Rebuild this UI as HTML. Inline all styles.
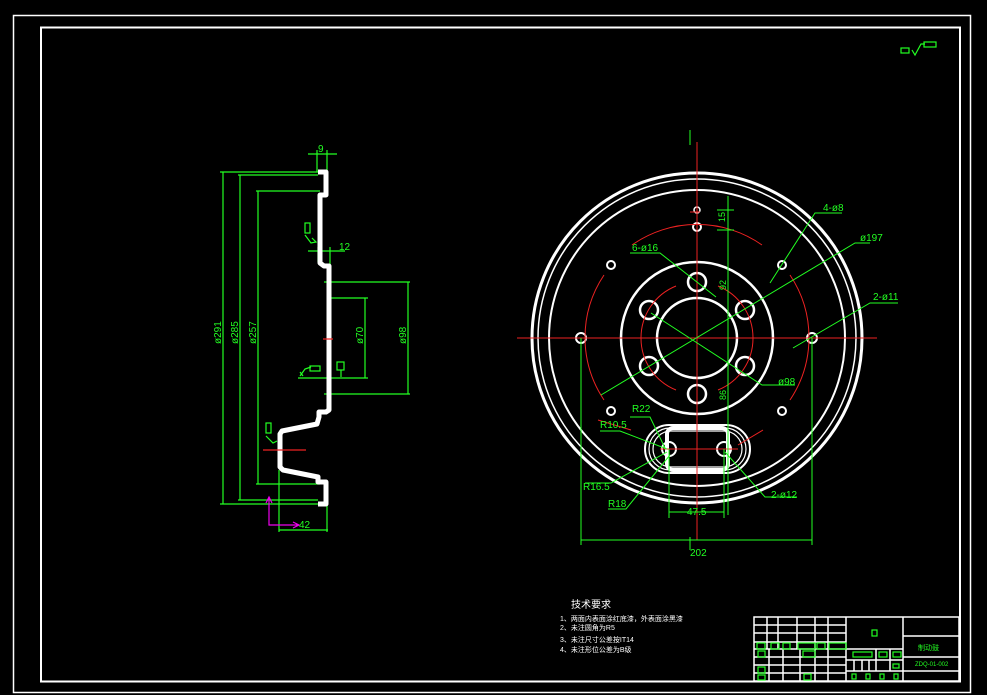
<!DOCTYPE html>
<html><head><meta charset="utf-8"><style>
html,body{margin:0;padding:0;background:#000;}
svg{display:block}
text{font-family:"Liberation Sans","Noto Sans CJK SC",sans-serif;}
</style></head><body>
<svg width="987" height="695" viewBox="0 0 987 695" xmlns="http://www.w3.org/2000/svg">
<rect width="987" height="695" fill="#000"/>
<!-- frames -->
<rect x="13.5" y="15.5" width="957" height="677" fill="none" stroke="#fff" stroke-width="1.5"/>
<rect x="41" y="27.5" width="919" height="654" fill="none" stroke="#fff" stroke-width="2"/>
<!-- top-right roughness symbol -->
<g stroke="#2f2" fill="none" stroke-width="1.2">
<rect x="901" y="48" width="8" height="5"/>
<path d="M912,50 L915,55 L921,44 L925,44"/>
<rect x="924" y="42" width="12" height="5"/>
</g>

<!-- LEFT SECTION VIEW -->
<g stroke="#2f2" stroke-width="1.2" fill="none">
<!-- dim ø291 -->
<path d="M223,172 V504 M220,172 H318 M220,504 H318"/>
<!-- ø285 -->
<path d="M240,175 V500 M238,175 H318 M238,500 H318"/>
<!-- ø257 -->
<path d="M258,191 V484 M256,191 H320 M256,484 H320"/>
<!-- ø98 -->
<path d="M408,282 V394 M324,282 H410 M324,394 H410"/>
<!-- ø70 -->
<path d="M365,298 V378 M330,298 H368 M298,378 H368"/>
<!-- 9 -->
<path d="M308,154 H337 M317,150 V172 M327,150 V172"/>
<!-- 12 -->
<path d="M308,251 H345 M318,247 V262 M330,247 V265"/>
<!-- 42 -->
<path d="M279,530 H328 M279,470 V532 M327,505 V532"/>
<!-- roughness symbols -->
<rect x="305" y="223" width="5" height="10"/>
<path d="M305,235 L311,243 L316,242 L312,238"/>
<rect x="266" y="423" width="5" height="10"/>
<path d="M266,436 L273,443 L277,441"/>
<path d="M300,376 L305,369 L311,367 M303,376 L300,372"/>
<rect x="310" y="366" width="10" height="5"/>
<rect x="337" y="362" width="7" height="8"/>
<path d="M341,370 V377"/>
</g>
<!-- magenta axis -->
<g stroke="#e0e" stroke-width="1.2" fill="none">
<path d="M269,497 V525 H299 M266,503 L269,497 L272,503 M293,522 L299,525 L293,528"/>
</g>
<!-- profile -->
<path d="M318,172 H326 V195 H320 V263 L324,266 H329 V410 L326,412 H319 V417 L317,424 L282,431 L280,434 V467 L283,470 L318,477 V482 H326 V504 H318" fill="none" stroke="#fff" stroke-width="5" stroke-linejoin="round"/>
<path d="M263,450 H306 M323,339 H333" stroke="#e22" stroke-width="1.2"/>
<g fill="#2f2" font-size="10">
<text x="318" y="152">9</text>
<text x="339" y="250">12</text>
<text x="299" y="528">42</text>
<text transform="translate(221,344) rotate(-90)">ø291</text>
<text transform="translate(238,344) rotate(-90)">ø285</text>
<text transform="translate(256,344) rotate(-90)">ø257</text>
<text transform="translate(363,344) rotate(-90)">ø70</text>
<text transform="translate(406,344) rotate(-90)">ø98</text>
</g>

<!-- RIGHT VIEW -->
<g fill="none" stroke="#fff">
<circle cx="697" cy="338" r="165" stroke-width="3"/>
<circle cx="697" cy="338" r="159" stroke-width="1.5"/>
<circle cx="697" cy="338" r="148" stroke-width="2"/>
<circle cx="697" cy="338" r="76" stroke-width="2.5"/>
<circle cx="697" cy="338" r="40" stroke-width="2.5"/>
<circle cx="697" cy="282" r="9" stroke-width="2.5"/>
<circle cx="697" cy="394" r="9" stroke-width="2.5"/>
<circle cx="649" cy="310" r="9" stroke-width="2.5"/>
<circle cx="745" cy="310" r="9" stroke-width="2.5"/>
<circle cx="649" cy="366" r="9" stroke-width="2.5"/>
<circle cx="745" cy="366" r="9" stroke-width="2.5"/>
<circle cx="581" cy="338" r="5" stroke-width="2"/>
<circle cx="812" cy="338" r="5" stroke-width="2"/>
<circle cx="611" cy="265" r="4" stroke-width="2"/>
<circle cx="782" cy="265" r="4" stroke-width="2"/>
<circle cx="611" cy="411" r="4" stroke-width="2"/>
<circle cx="782" cy="411" r="4" stroke-width="2"/>
<circle cx="697" cy="210" r="3" stroke-width="1.5"/>
<circle cx="697" cy="227" r="4" stroke-width="2"/>
<!-- slot -->
<rect x="645" y="425" width="105" height="48" rx="24" stroke-width="2"/>
<rect x="649" y="428" width="97" height="42" rx="21" stroke-width="1.2"/>
<rect x="653" y="431" width="89" height="36" rx="18" stroke-width="1.2"/>
<rect x="667" y="428" width="61" height="42" rx="6" stroke-width="4"/>
<circle cx="669" cy="449" r="7" stroke-width="2"/>
<circle cx="724" cy="449" r="7" stroke-width="2"/>
</g>
<g fill="none" stroke="#e22" stroke-width="1">
<path d="M517,338 H877 M697,142 V540 M700,212 H690 M660,449 H738"/>
<path d="M632,245 A113,113 0 0 1 762,245"/>
<path d="M585,338 A113,113 0 0 1 604,275 M585,338 A113,113 0 0 0 604,400"/>
<path d="M809,338 A113,113 0 0 0 790,275 M809,338 A113,113 0 0 1 790,400"/>
<path d="M641,338 A56,56 0 0 1 676,286 M641,338 A56,56 0 0 0 676,390 M753,338 A56,56 0 0 0 718,286 M753,338 A56,56 0 0 1 718,390"/>
<path d="M631,430 L598,420 M763,430 L738,445"/>
</g>
<g fill="none" stroke="#2f2" stroke-width="1">
<path d="M728,196 V515 M717,230 H734 M717,210 H734"/>
<path d="M581,338 V545 M812,338 V545 M581,540 H812"/>
<path d="M669,449 V518 M724,449 V518 M669,512 H724"/>
<path d="M601,395 L855,243 L870,243"/>
<path d="M793,348 L870,303 L898,303"/>
<path d="M770,283 L815,213 L842,213"/>
<path d="M630,253 L660,253 L716,297"/>
<path d="M651,313 L762,385 L795,385"/>
<path d="M630,417 L650,417 L665,448"/>
<path d="M600,431 L620,431 L667,449"/>
<path d="M585,483 L611,483 L667,452"/>
<path d="M608,509 L626,509 L670,455"/>
<path d="M725,452 L765,497 L797,497"/>
<path d="M690,130 V145 M690,537 V550"/>
</g>
<g fill="#2f2" font-size="10">
<text x="823" y="211">4-ø8</text>
<text x="860" y="241">ø197</text>
<text x="873" y="300">2-ø11</text>
<text x="632" y="251">6-ø16</text>
<text x="778" y="385">ø98</text>
<text x="632" y="412">R22</text>
<text x="600" y="428">R10.5</text>
<text x="583" y="490">R16.5</text>
<text x="608" y="507">R18</text>
<text x="771" y="498">2-ø12</text>
<text x="687" y="515">47.5</text>
<text x="690" y="556">202</text>
<text transform="translate(725,222) rotate(-90)" font-size="9">15</text>
<text transform="translate(726,290) rotate(-90)" font-size="9">92</text>
<text transform="translate(726,400) rotate(-90)" font-size="9">86</text>
</g>

<!-- tech requirements -->
<g fill="#fff">
<text x="571" y="608" font-size="10">技术要求</text>
<text x="560" y="621" font-size="7">1、两面内表面涂红底漆，外表面涂黑漆</text>
<text x="560" y="630" font-size="7">2、未注圆角为R5</text>
<text x="560" y="642" font-size="7">3、未注尺寸公差按IT14</text>
<text x="560" y="652" font-size="7">4、未注形位公差为B级</text>
</g>

<!-- title block -->
<g stroke="#fff" stroke-width="1.5" fill="none">
<rect x="754" y="617" width="205" height="64"/>
<path d="M846,617 V681 M903,617 V681"/>
<path d="M754,625 H846 M754,633 H846 M754,642 H846 M754,649 H846 M754,657 H846 M754,665 H846 M754,673 H846"/>
<path d="M767,617 V649 M778,617 V649 M797,617 V649 M815,617 V649 M828,617 V649"/>
<path d="M769,649 V681 M783,649 V681 M800,649 V681 M815,649 V681 M828,649 V681"/>
<path d="M846,649 H903 M846,660 H903 M846,671 H903 M876,649 V671 M890,649 V671 M854,660 V671 M862,660 V671 M869,660 V671"/>
<path d="M903,636 H959 M903,657 H959 M903,671 H959"/>
</g>
<g stroke="#2f2" stroke-width="1.2" fill="none">
<rect x="872" y="630" width="5" height="6"/>
<rect x="853" y="652" width="19" height="5"/>
<rect x="879" y="652" width="8" height="5"/>
<rect x="893" y="652" width="8" height="5"/>
<rect x="893" y="664" width="6" height="4"/>
<rect x="852" y="674" width="4" height="5"/>
<rect x="866" y="674" width="4" height="5"/>
<rect x="880" y="674" width="4" height="5"/>
<rect x="894" y="674" width="4" height="5"/>
<rect x="757" y="643" width="8" height="6"/>
<rect x="771" y="643" width="8" height="6"/>
<rect x="783" y="643" width="7" height="6"/>
<rect x="798" y="643" width="17" height="6"/>
<rect x="817" y="643" width="8" height="6"/>
<rect x="829" y="643" width="17" height="6"/>
<rect x="758" y="651" width="7" height="6"/>
<rect x="803" y="651" width="12" height="6"/>
<rect x="758" y="667" width="7" height="6"/>
<rect x="758" y="675" width="7" height="5"/>
<rect x="804" y="674" width="7" height="6"/>
</g>
<g fill="#2f2">
<text x="918" y="650" font-size="7">制动鼓</text>
<text x="915" y="666" font-size="6">ZDQ-01-002</text>
</g>
</svg>
</body></html>
